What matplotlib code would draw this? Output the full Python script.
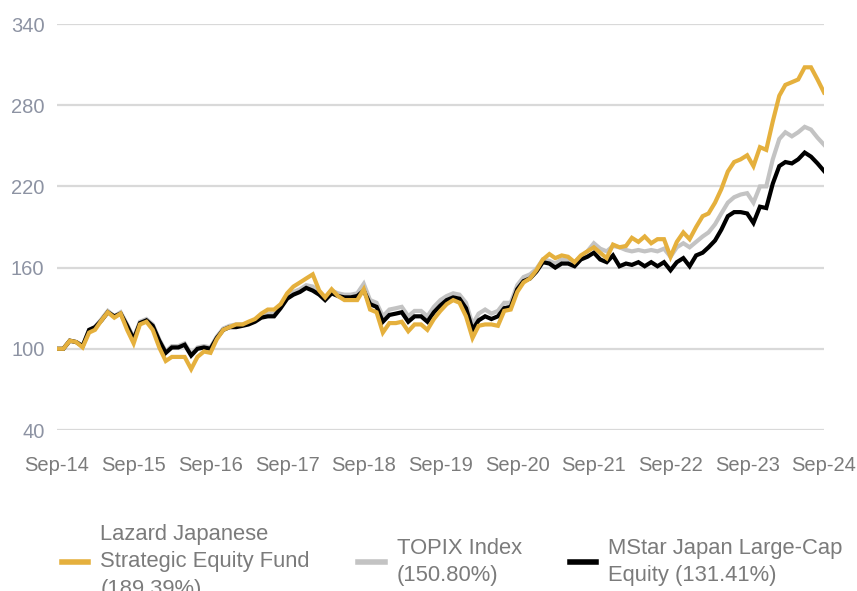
import numpy as np
import pandas as pd
import matplotlib
matplotlib.use('Agg')
import matplotlib.pyplot as plt
import matplotlib.dates as mdates

plt.rcParams['font.family'] = ['Liberation Sans', 'DejaVu Sans']

# monthly index values, Sep-14 = 100
dates = pd.date_range('2014-09-01', '2024-09-01', freq='MS')

lazard = [
    100, 100, 106, 105, 101, 112, 114, 121, 127, 123,
    126, 114, 104, 118, 120, 114, 101, 91, 94, 94,
    94, 85, 94, 98, 97, 107, 114, 116, 118, 118,
    120, 122, 126, 129, 129, 133, 141, 146, 149, 152,
    155, 143, 138, 144, 139, 136, 136, 136, 144, 129,
    127, 112, 119, 119, 120, 113, 118, 118, 114, 122,
    128, 133, 136, 134, 124, 108, 117, 118, 118, 117,
    128, 129, 142, 149, 152, 158, 166, 170, 167, 169,
    168, 164, 169, 172, 175, 171, 167, 177, 175, 176,
    182, 179, 183, 178, 181, 181, 168, 179, 186, 181,
    190, 198, 200, 208, 218, 231, 238, 240, 243, 235,
    249, 247, 268, 287, 295, 297, 299, 308, 308, 299,
    289.4]

topix = [
    100, 100, 106, 105, 102, 114, 116, 122, 128, 124,
    127, 118, 108, 120, 122, 118, 107, 98, 102, 102,
    104, 96, 101, 102, 101, 109, 115, 117, 118, 118,
    119, 121, 124, 126, 126, 132, 139, 142, 144, 147,
    146, 142, 138, 143, 141, 140, 140, 141, 148, 136,
    134, 124, 129, 130, 131, 124, 128, 128, 124, 131,
    136, 139, 141, 140, 134, 118, 126, 129, 126, 128,
    134, 134, 147, 153, 155, 159, 166, 165, 163, 166,
    166, 164, 168, 172, 178, 174, 172, 176, 175, 173,
    172, 173, 172, 173, 172, 174, 168, 175, 178, 175,
    179, 183, 186, 192, 200, 208, 212, 214, 215, 208,
    220, 220, 240, 255, 260, 257, 260, 264, 262, 256,
    250.8]

mstar = [
    100, 100, 106, 105, 102, 114, 116, 121, 127, 124,
    126, 117, 107, 119, 121, 117, 106, 97, 101, 101,
    103, 95, 100, 101, 100, 108, 114, 116, 116, 117,
    118, 120, 123, 124, 124, 130, 137, 140, 142, 145,
    143, 140, 136, 141, 139, 138, 138, 139, 143, 133,
    131, 120, 125, 126, 127, 120, 124, 124, 120, 127,
    132, 136, 138, 137, 130, 114, 121, 124, 122, 124,
    130, 131, 144, 150, 152, 157, 164, 163, 160, 163,
    163, 161, 166, 168, 171, 166, 164, 169, 161, 163,
    162, 164, 161, 164, 161, 164, 158, 164, 167, 161,
    169, 171, 175, 180, 188, 198, 201, 201, 200, 193,
    205, 204, 222, 235, 238, 237, 240, 245, 242, 237,
    231.41]

labels = ['Lazard Japanese\nStrategic Equity Fund\n(189.39%)',
          'TOPIX Index\n(150.80%)',
          'MStar Japan Large-Cap\nEquity (131.41%)']
colors = ['#e5b03d', '#c3c3c3', '#000000']

yticks = [40, 100, 160, 220, 280, 340]
xtick_dates = pd.date_range('2014-09-01', '2024-09-01', freq='12MS')

fig = plt.figure(figsize=(8.57, 5.91), dpi=100)
ax = fig.add_axes([57 / 857, 1 - 430 / 591, 767 / 857, 406 / 591])

# draw grey first, then black, gold on top
l2, = ax.plot(dates, topix, color=colors[1], lw=3, solid_joinstyle='miter', zorder=3)
l3, = ax.plot(dates, mstar, color=colors[2], lw=3, solid_joinstyle='miter', zorder=4)
l1, = ax.plot(dates, lazard, color=colors[0], lw=3, solid_joinstyle='miter', zorder=5)

ax.set_ylim(40, 340)
ax.set_yticks(yticks)
ax.set_xlim(dates[0], dates[-1])
ax.set_xticks(xtick_dates)
ax.xaxis.set_major_formatter(mdates.DateFormatter('%b-%y'))
ax.grid(axis='y', color='#d9d9d9', lw=1.6, zorder=0)
ax.grid(axis='x', visible=False)
for s in ax.spines.values():
    s.set_visible(False)
ax.tick_params(axis='y', length=0, pad=9, labelsize=14.5, labelcolor='#8d93a3')
ax.tick_params(axis='x', length=0, pad=19, labelsize=14.5, labelcolor='#7b7b7b')

# legend sits low, its last line runs off the bottom edge as in the source
leg = fig.legend([l1, l2, l3], labels, loc='upper left',
                 bbox_to_anchor=(62 / 857, 1 - 524 / 591), ncol=3,
                 frameon=False, fontsize=15.8, borderpad=0, borderaxespad=0,
                 handlelength=1.2, handletextpad=0.55, columnspacing=2.2,
                 labelcolor='#7b7b7b')
for h in leg.legend_handles:
    h.set_linewidth(4)
for t in leg.get_texts():
    t.set_linespacing(1.4)

fig.savefig('out.png', dpi=100)
